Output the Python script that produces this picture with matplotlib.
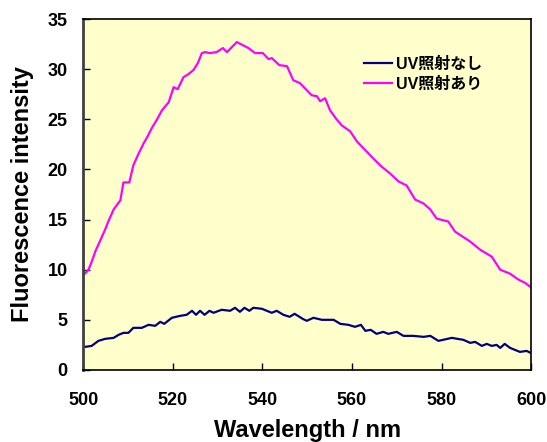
import matplotlib.pyplot as plt

plt.rcParams['font.family'] = ['Liberation Sans', 'Noto Sans CJK JP']
plt.rcParams['font.weight'] = 'bold'

# UV照射あり (magenta)
x_uv = [500.0, 500.4, 501.2, 502.0, 502.7, 503.8, 504.9, 505.8, 506.8, 508.1, 508.3, 509.0, 510.3,
        511.2, 512.3, 513.5, 514.4, 515.3, 516.5, 517.6, 519.1, 520.2, 521.1, 522.4, 523.5,
        524.6, 525.6, 526.5, 527.2, 528.3, 529.8, 531.2, 532.1, 533.2, 534.3, 535.6, 536.9,
        538.4, 540.1, 541.4, 542.1, 543.8, 545.5, 546.9, 548.4, 549.7, 551.0, 552.2, 552.9,
        554.0, 555.1, 556.4, 557.7, 559.6, 561.1, 562.6, 564.1, 566.3, 568.5, 570.4, 572.2,
        574.1, 576.0, 577.5, 578.9, 581.5, 583.0, 584.7, 586.4, 588.6, 591.2, 593.1, 595.3,
        597.2, 598.6, 599.8, 600.0]
y_uv = [9.6, 9.6, 10.0, 10.9, 11.8, 12.9, 14.0, 15.0, 16.0, 16.8, 16.9, 18.7, 18.7,
        20.4, 21.5, 22.6, 23.3, 24.1, 25.0, 25.9, 26.7, 28.2, 28.0, 29.2, 29.5,
        29.9, 30.6, 31.6, 31.7, 31.6, 31.7, 32.1, 31.7, 32.2, 32.7, 32.4, 32.1,
        31.6, 31.6, 31.0, 31.1, 30.4, 30.3, 28.9, 28.6, 28.0, 27.4, 27.3, 26.8,
        27.1, 25.9, 25.1, 24.4, 23.8, 22.8, 22.1, 21.4, 20.4, 19.6, 18.8, 18.4,
        17.0, 16.6, 16.0, 15.1, 14.8, 13.8, 13.3, 12.8, 12.0, 11.3, 10.0, 9.6,
        9.0, 8.7, 8.3, 8.2]

# UV照射なし (navy)
x_no = [500.0, 500.4, 501.9, 503.4, 504.9, 506.8, 507.9, 509.0, 510.1, 511.2, 513.1, 514.6,
        516.1, 517.2, 518.1, 519.8, 521.7, 523.1, 524.3, 525.2, 526.1, 527.1, 528.2, 529.1,
        530.9, 532.8, 533.9, 535.0, 536.0, 537.1, 538.0, 539.9, 542.1, 543.2, 544.7, 546.1,
        547.2, 549.0, 549.9, 551.4, 553.3, 555.9, 557.4, 559.2, 560.7, 562.0, 563.0, 564.2,
        565.5, 567.0, 568.1, 570.0, 571.5, 573.7, 576.0, 577.5, 579.3, 582.3, 584.9, 586.4,
        587.5, 589.0, 590.1, 591.2, 592.3, 593.1, 594.1, 595.3, 597.5, 599.0, 599.9, 600.0]
y_no = [2.3, 2.3, 2.4, 2.9, 3.1, 3.2, 3.5, 3.7, 3.7, 4.2, 4.2, 4.5,
        4.4, 4.8, 4.6, 5.2, 5.4, 5.5, 5.9, 5.5, 5.9, 5.5, 5.9, 5.7,
        6.0, 5.9, 6.2, 5.8, 6.2, 5.9, 6.2, 6.1, 5.7, 5.9, 5.5, 5.3,
        5.6, 5.1, 4.9, 5.2, 5.0, 5.0, 4.6, 4.5, 4.3, 4.5, 3.9, 4.0,
        3.6, 3.8, 3.6, 3.8, 3.4, 3.4, 3.3, 3.4, 2.9, 3.2, 3.0, 2.7,
        2.8, 2.4, 2.6, 2.4, 2.5, 2.2, 2.6, 2.2, 1.8, 1.9, 1.7, 1.7]

fig = plt.figure(figsize=(5.47, 4.42), dpi=100)
ax = fig.add_axes([0.152, 0.163, 0.819, 0.794])
ax.set_facecolor('#FFFFCC')

ax.plot(x_no, y_no, color='#000080', lw=1.6, label='UV照射なし')
ax.plot(x_uv, y_uv, color='#FF00FF', lw=1.6, label='UV照射あり')

ax.set_xlim(500, 600)
ax.set_ylim(0, 35)
ax.set_xticks(range(500, 601, 20))
ax.set_yticks(range(0, 36, 5))
ax.tick_params(direction='in', length=5, width=1, labelsize=13)
ax.tick_params(axis='x', pad=16)
ax.tick_params(axis='y', pad=11)
ax.tick_params(top=False, right=False)
for lab in ax.get_xticklabels() + ax.get_yticklabels():
    lab.set_fontweight('bold')

for s in ['top', 'right', 'bottom']:
    ax.spines[s].set_linewidth(1.2)
    ax.spines[s].set_color('black')
ax.spines['left'].set_linewidth(2)
ax.spines['left'].set_color('#404040')

ax.set_xlabel('Wavelength / nm', fontsize=17, fontweight='bold', labelpad=7)
ax.set_ylabel('Fluorescence intensity', fontsize=17, fontweight='bold', labelpad=10)

ax.legend(loc='upper left', bbox_to_anchor=(0.628, 0.893), frameon=False,
          borderaxespad=0, borderpad=0, handlelength=1.7, handletextpad=0.25,
          labelspacing=0.25, prop={'size': 11.5, 'weight': 'bold'})

fig.savefig('out.png', dpi=100)
